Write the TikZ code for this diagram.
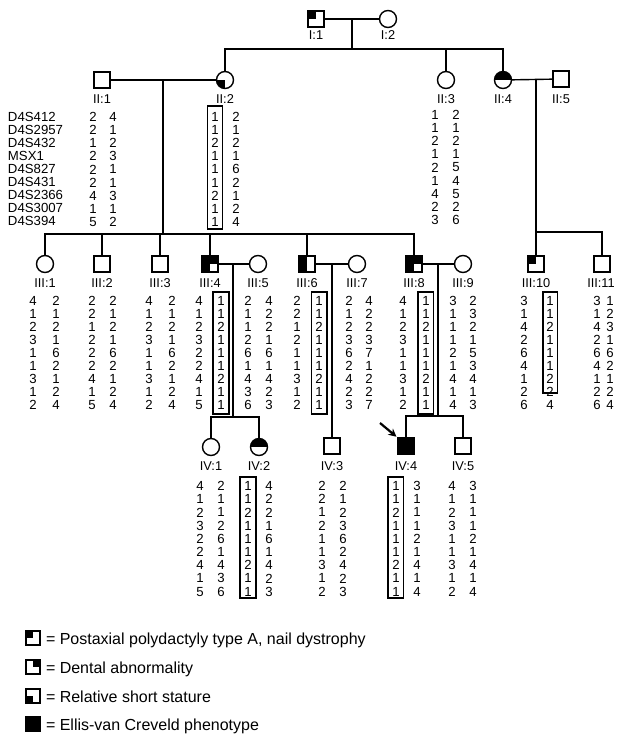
\documentclass[tikz,border=0pt]{standalone}
\usepackage{fontspec}
\setmainfont{Liberation Sans}
\usetikzlibrary{arrows.meta,calc}
\newcommand\hcol[4]{\foreach \v [count=\i] in {#4} {\node[al] (#1-\i) at (#2,{#3+(\i-1)*13.1}) {\v};}}
\newcommand\hcolb[4]{\foreach \v [count=\i] in {#4} {\node[al] (#1-\i) at (#2,{#3+(\i-1)*13.2}) {\v};}}
\begin{document}
\begin{tikzpicture}[x=1pt,y=-1pt,
  every node/.style={inner sep=0pt, outer sep=0pt},
  sq/.style={draw, rectangle, minimum size=16pt, line width=1.4pt},
  ci/.style={draw, circle, minimum size=17pt, line width=1.4pt},
  q/.style={path picture={\foreach \a in {#1}{\fill (path picture bounding box.center) rectangle (path picture bounding box.\a);}}},
  lab/.style={font=\fontsize{12.8}{13}\selectfont},
  al/.style={font=\fontsize{13.2}{13}\selectfont},
  ln/.style={line width=1.4pt},
  bx/.style={line width=1.4pt},
  lg/.style={draw, rectangle, minimum size=14pt, line width=1.4pt},
  lgt/.style={font=\fontsize{16}{18}\selectfont, anchor=base west},
]
\fill[white] (0,0) rectangle (616,736);
\useasboundingbox (0,0) rectangle (616,736);
% ---------- Generation I
\node[sq, q={north west}] (I1) at (316,19) {};
\node[ci] (I2) at (388,19) {};
\node[lab] (I1l) at (316,35) {I:1};
\node[lab] (I2l) at (388,35) {I:2};
\coordinate (m1) at (352,19);
\coordinate (s1) at (352,49);
% ---------- Generation II
\node[sq] (II1) at (102,80) {};
\node[ci, q={south west}] (II2) at (225,80) {};
\node[ci] (II3) at (446,80) {};
\node[ci, q={north west,north east}] (II4) at (503,80) {};
\node[sq] (II5) at (561,79) {};
\foreach \n/\x in {1/102, 2/225, 3/446, 4/503, 5/561}
  \node[lab] (II\n l) at (\x,99) {II:\n};
\coordinate (m2) at (163,80);
\coordinate (s2) at (163,234);
\coordinate (m3) at (536,80);
\coordinate (s3) at (536,232);
% ---------- Generation III
\node[ci] (III1) at (45,264) {};
\node[sq] (III2) at (102,264) {};
\node[sq] (III3) at (160,264) {};
\node[sq, q={north west,south west,north east}] (III4) at (210,264) {};
\node[ci] (III5) at (258,264) {};
\node[sq, q={north west,south west}] (III6) at (307,264) {};
\node[ci] (III7) at (357,264) {};
\node[sq, q={north west,south west,north east}] (III8) at (414,264) {};
\node[ci] (III9) at (463,264) {};
\node[sq, q={north west}] (III10) at (536,264) {};
\node[sq] (III11) at (602,264) {};
\foreach \n/\x in {1/45,2/102,3/160,4/210,5/258,6/307,7/357,8/414,9/463,10/536,11/601}
  \node[lab] (III\n l) at (\x,283) {III:\n};
\coordinate (m4) at (233,264);
\coordinate (s4) at (233,417);
\coordinate (m5) at (332,264);
\coordinate (m6) at (438,264);
\coordinate (s6) at (438,416);
% ---------- Generation IV
\node[ci] (IV1) at (211,447) {};
\node[ci, q={north west,north east}] (IV2) at (259,447) {};
\node[sq] (IV3) at (332,446) {};
\node[sq, fill=black] (IV4) at (406,446) {};
\node[sq] (IV5) at (463,446) {};
\foreach \n/\x in {1/211,2/259,3/332,4/406,5/463}
  \node[lab] (IV\n l) at (\x,466) {IV:\n};
\coordinate (arr) at (380,423);
% ---------- connectors
\draw[ln] (I1) -- (I2);
\draw[ln] (m1) -- (s1);
\draw[ln] (II2.north) |- (s1) -| (II4.north);
\draw[ln] (II3.north) -- (II3.north |- s1);
\draw[ln] (II1) -- (II2);
\draw[ln] (m2) -- (s2);
\draw[ln] (III1.north) |- (s2) -| (III8.north);
\foreach \n in {III2,III3,III4,III6} \draw[ln] (\n.north) -- (\n.north |- s2);
\draw[ln] (II4) -- (II5);
\draw[ln] (m3) -- (III10.north);
\draw[ln] (s3) -| (III11.north);
\draw[ln] (III4) -- (III5);
\draw[ln] (m4) -- (s4);
\draw[ln] (IV1.north) |- (s4) -| (IV2.north);
\draw[ln] (III6) -- (III7);
\draw[ln] (m5) -- (IV3.north);
\draw[ln] (III8) -- (III9);
\draw[ln] (m6) -- (s6);
\draw[ln] (IV4.north) |- (s6) -| (IV5.north);
\draw[-{Stealth[length=8pt,width=8pt]}, line width=2.2pt, shorten >=2pt] (arr) -- (IV4.north west);
% ---------- markers
\foreach \m [count=\i] in {D4S412,D4S2957,D4S432,MSX1,D4S827,D4S431,D4S2366,D4S3007,D4S394}
  \node[al, anchor=west] (mk-\i) at (8,{117+(\i-1)*13.05}) {\m};
% ---------- haplotypes gen II
\hcol{a1}{93}{117}{2,2,1,2,2,2,4,1,5}
\hcol{a2}{113}{117}{4,1,2,3,1,1,3,1,2}
\hcol{b1}{215}{117}{1,1,2,1,1,1,2,1,1}
\hcol{b2}{236}{117}{2,1,2,1,6,2,1,2,4}
\hcol{c1}{435}{115}{1,1,2,1,2,1,4,2,3}
\hcol{c2}{456}{115}{2,1,2,1,5,4,5,2,6}
\draw[bx] (207.5,106) rectangle (222.5,229);
% ---------- haplotypes gen III
\hcol{d1}{33}{300.5}{4,1,2,3,1,1,3,1,2}
\hcol{d2}{56}{300.5}{2,1,2,1,6,2,1,2,4}
\hcol{e1}{92}{300.5}{2,2,1,2,2,2,4,1,5}
\hcol{e2}{113}{300.5}{2,1,2,1,6,2,1,2,4}
\hcol{f1}{149}{300.5}{4,1,2,3,1,1,3,1,2}
\hcol{f2}{172}{300.5}{2,1,2,1,6,2,1,2,4}
\hcol{g1}{199}{300.5}{4,1,2,3,2,2,4,1,5}
\hcol{g2}{221}{300.5}{1,1,2,1,1,1,2,1,1}
\hcol{h1}{248}{300.5}{2,1,1,2,6,1,4,3,6}
\hcol{h2}{269}{300.5}{4,2,2,1,6,1,4,2,3}
\hcol{i1}{297}{300.5}{2,2,1,2,1,1,3,1,2}
\hcol{i2}{319}{300.5}{1,1,2,1,1,1,2,1,1}
\hcol{j1}{349}{300.5}{2,1,2,3,6,2,4,2,3}
\hcol{j2}{369}{300.5}{4,2,2,3,7,1,2,2,7}
\hcol{k1}{403}{300.5}{4,1,2,3,1,1,3,1,2}
\hcol{k2}{426}{300.5}{1,1,2,1,1,1,2,1,1}
\hcol{l1}{453}{300.5}{3,1,1,1,2,1,4,1,4}
\hcol{l2}{473}{300.5}{2,3,2,1,5,3,4,1,3}
\hcol{n1}{524}{300.5}{3,1,4,2,6,4,1,2,6}
\hcol{n2}{550}{300.5}{1,1,2,1,1,1,2,2,4}
\hcol{o1}{597}{300.5}{3,1,4,2,6,4,1,2,6}
\hcol{o2}{610}{300.5}{1,2,3,1,6,2,1,2,4}
\draw[bx] (213,292) rectangle (229,414);
\draw[bx] (311.5,292) rectangle (327,414);
\draw[bx] (418,292) rectangle (433.5,414);
\draw[bx] (543,292) rectangle (557.5,393);
% ---------- haplotypes gen IV
\hcolb{p1}{200}{486}{4,1,2,3,2,2,4,1,5}
\hcolb{p2}{221}{486}{2,1,1,2,6,1,4,3,6}
\hcolb{r1}{248}{486}{1,1,2,1,1,1,2,1,1}
\hcolb{r2}{269}{486}{4,2,2,1,6,1,4,2,3}
\hcolb{t1}{322}{486}{2,2,1,2,1,1,3,1,2}
\hcolb{t2}{343}{486}{2,1,2,3,6,2,4,2,3}
\hcolb{u1}{396}{486}{1,1,2,1,1,1,2,1,1}
\hcolb{u2}{417}{486}{3,1,1,1,2,1,4,1,4}
\hcolb{w1}{452}{486}{4,1,2,3,1,1,3,1,2}
\hcolb{w2}{473}{486}{3,1,1,1,2,1,4,1,4}
\draw[bx] (240,477) rectangle (256,598);
\draw[bx] (388,477) rectangle (403.5,598);
% ---------- legend
\node[lg, q={north west}] (L1) at (33,638) {};
\node[lg, q={north east}] (L2) at (33,667) {};
\node[lg, q={south west}] (L3) at (33,696) {};
\node[lg, fill=black] (L4) at (33,724) {};
\node[lgt] (T1) at (46,644) {= Postaxial polydactyly type A, nail dystrophy};
\node[lgt] (T2) at (46,673) {= Dental abnormality};
\node[lgt] (T3) at (46,702) {= Relative short stature};
\node[lgt] (T4) at (46,730) {= Ellis-van Creveld phenotype};
\end{tikzpicture}
\end{document}
